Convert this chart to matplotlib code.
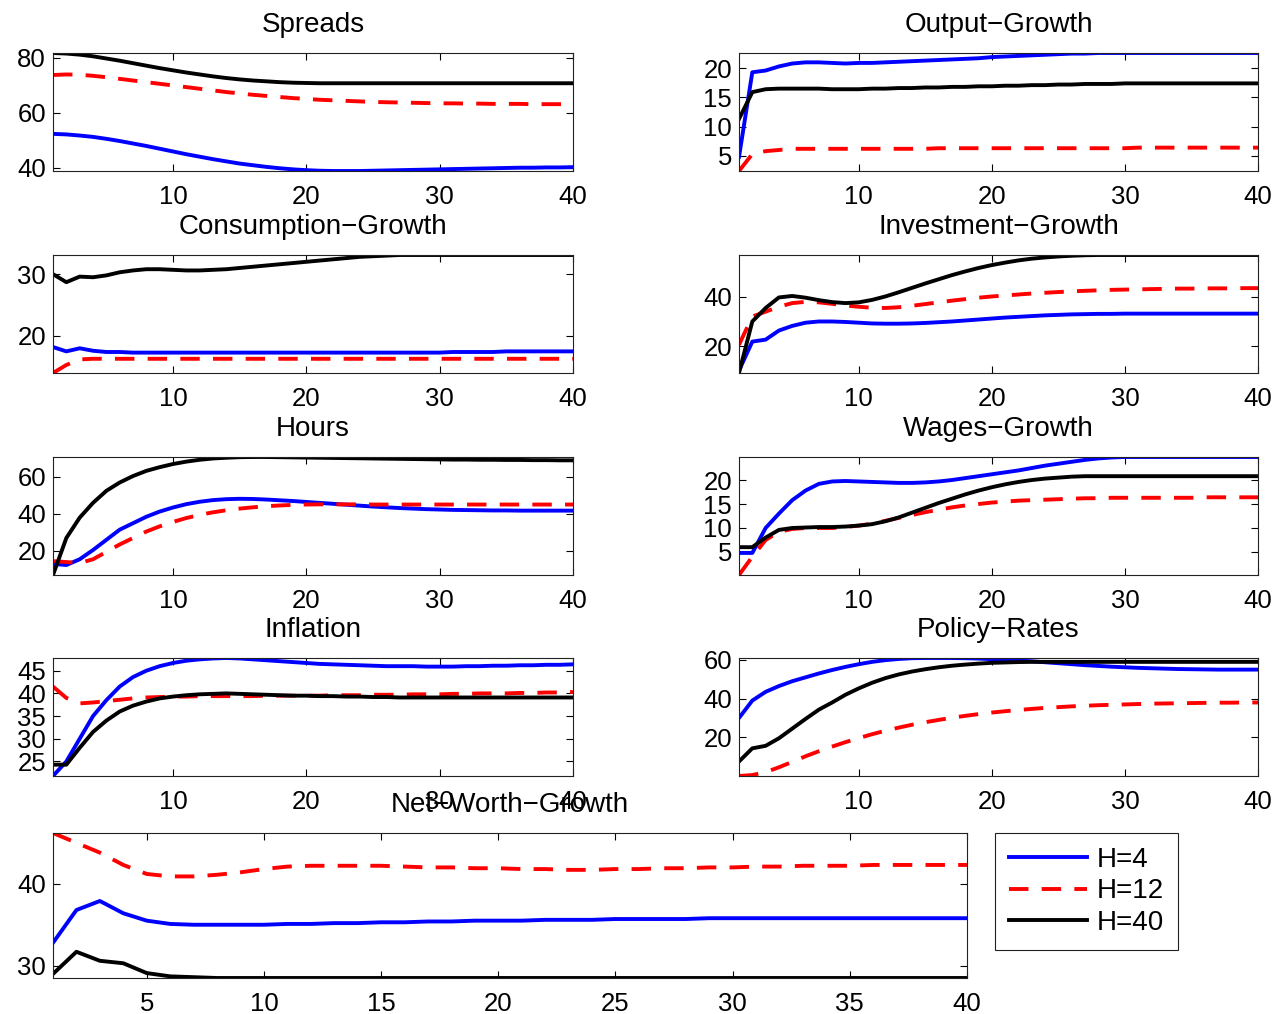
import matplotlib
matplotlib.use('Agg')
import matplotlib.pyplot as plt
import numpy as np

plt.rcParams['font.family'] = ['Liberation Sans', 'DejaVu Sans']

# horizon (quarters)
t = np.arange(1, 41)

labels = ['H=4', 'H=12', 'H=40']

spreads_h4 = [52.4, 52.2, 51.8, 51.3, 50.6, 49.8, 48.9, 48.0, 47.0, 46.0,
              45.0, 44.1, 43.2, 42.4, 41.6, 41.0, 40.4, 39.9, 39.5, 39.2,
              39.0, 38.9, 38.9, 38.9, 39.0, 39.1, 39.2, 39.3, 39.4, 39.5,
              39.6, 39.7, 39.8, 39.9, 40.0, 40.1, 40.1, 40.2, 40.2, 40.3]
spreads_h12 = [73.8, 74.0, 73.9, 73.5, 73.0, 72.4, 71.8, 71.2, 70.6, 70.0,
               69.4, 68.8, 68.2, 67.6, 67.1, 66.6, 66.2, 65.8, 65.4, 65.1,
               64.8, 64.6, 64.4, 64.2, 64.0, 63.9, 63.8, 63.7, 63.6, 63.5,
               63.5, 63.4, 63.4, 63.3, 63.3, 63.3, 63.2, 63.2, 63.2, 63.1]
spreads_h40 = [81.8, 81.6, 81.2, 80.6, 79.8, 79.0, 78.1, 77.2, 76.3, 75.5,
               74.7, 74.0, 73.3, 72.7, 72.2, 71.8, 71.5, 71.2, 71.0, 70.9,
               70.8, 70.8, 70.8, 70.8, 70.8, 70.8, 70.8, 70.8, 70.8, 70.8,
               70.8, 70.8, 70.8, 70.8, 70.8, 70.8, 70.8, 70.8, 70.8, 70.8]

output_h4 = [4.8, 19.3, 19.6, 20.3, 20.8, 21.0, 21.0, 20.9, 20.8, 20.9,
             20.9, 21.0, 21.1, 21.2, 21.3, 21.4, 21.5, 21.6, 21.7, 21.9,
             22.0, 22.1, 22.2, 22.3, 22.4, 22.5, 22.5, 22.6, 22.6, 22.6,
             22.6, 22.6, 22.6, 22.6, 22.6, 22.6, 22.6, 22.6, 22.6, 22.6]
output_h12 = [2.4, 5.3, 5.8, 6.0, 6.2, 6.2, 6.2, 6.2, 6.2, 6.2,
              6.2, 6.2, 6.2, 6.2, 6.2, 6.3, 6.3, 6.3, 6.3, 6.3,
              6.3, 6.3, 6.3, 6.3, 6.3, 6.3, 6.3, 6.3, 6.3, 6.3,
              6.4, 6.4, 6.4, 6.4, 6.4, 6.4, 6.4, 6.4, 6.4, 6.4]
output_h40 = [11.3, 15.9, 16.4, 16.5, 16.5, 16.5, 16.5, 16.4, 16.4, 16.4,
              16.5, 16.5, 16.6, 16.6, 16.7, 16.7, 16.8, 16.8, 16.9, 16.9,
              17.0, 17.0, 17.1, 17.1, 17.2, 17.2, 17.3, 17.3, 17.3, 17.4,
              17.4, 17.4, 17.4, 17.4, 17.4, 17.4, 17.4, 17.4, 17.4, 17.4]

cons_h4 = [18.2, 17.5, 18.0, 17.6, 17.4, 17.4, 17.3, 17.3, 17.3, 17.3,
           17.3, 17.3, 17.3, 17.3, 17.3, 17.3, 17.3, 17.3, 17.3, 17.3,
           17.3, 17.3, 17.3, 17.3, 17.3, 17.3, 17.3, 17.3, 17.3, 17.3,
           17.4, 17.4, 17.4, 17.4, 17.5, 17.5, 17.5, 17.5, 17.5, 17.5]
cons_h12 = [14.0, 15.3, 16.2, 16.3, 16.3, 16.3, 16.3, 16.3, 16.3, 16.3,
            16.3, 16.3, 16.3, 16.3, 16.3, 16.3, 16.3, 16.3, 16.3, 16.3,
            16.3, 16.3, 16.3, 16.3, 16.3, 16.3, 16.3, 16.3, 16.3, 16.3,
            16.3, 16.3, 16.3, 16.3, 16.3, 16.3, 16.3, 16.3, 16.3, 16.3]
cons_h40 = [30.0, 28.7, 29.6, 29.5, 29.8, 30.3, 30.6, 30.8, 30.8, 30.7,
            30.6, 30.6, 30.7, 30.8, 31.0, 31.2, 31.4, 31.6, 31.8, 32.0,
            32.2, 32.4, 32.6, 32.8, 32.9, 33.0, 33.1, 33.1, 33.1, 33.1,
            33.1, 33.1, 33.1, 33.1, 33.1, 33.1, 33.1, 33.1, 33.1, 33.1]

inv_h4 = [10.0, 21.8, 22.6, 26.3, 28.2, 29.5, 30.0, 30.0, 29.8, 29.5,
          29.2, 29.1, 29.1, 29.2, 29.4, 29.7, 30.0, 30.4, 30.8, 31.2,
          31.6, 31.9, 32.2, 32.5, 32.7, 32.9, 33.0, 33.1, 33.1, 33.2,
          33.2, 33.2, 33.2, 33.2, 33.2, 33.2, 33.2, 33.2, 33.2, 33.2]
inv_h12 = [20.5, 32.0, 34.0, 36.0, 37.5, 38.0, 37.8, 37.2, 36.5, 36.0,
           35.6, 35.5, 35.8, 36.4, 37.1, 37.8, 38.5, 39.1, 39.7, 40.2,
           40.6, 41.0, 41.4, 41.7, 42.0, 42.3, 42.5, 42.7, 42.9, 43.0,
           43.1, 43.2, 43.3, 43.4, 43.4, 43.5, 43.5, 43.5, 43.6, 43.6]
inv_h40 = [9.0, 30.0, 35.5, 39.8, 40.4, 39.7, 38.7, 37.9, 37.5, 37.8,
           38.8, 40.2, 41.9, 43.7, 45.5, 47.2, 48.9, 50.4, 51.8, 53.0,
           54.0, 54.9, 55.6, 56.1, 56.5, 56.8, 57.0, 57.1, 57.1, 57.1,
           57.1, 57.1, 57.1, 57.1, 57.1, 57.1, 57.1, 57.1, 57.1, 57.1]

hours_h4 = [13.0, 12.4, 15.5, 20.5, 26.0, 31.5, 35.0, 38.5, 41.3, 43.5,
            45.3, 46.6, 47.5, 48.0, 48.2, 48.1, 47.8, 47.4, 47.0, 46.5,
            46.0, 45.5, 45.0, 44.5, 44.0, 43.6, 43.2, 42.9, 42.6, 42.4,
            42.2, 42.1, 42.0, 41.9, 41.9, 41.8, 41.8, 41.8, 41.8, 41.8]
hours_h12 = [14.5, 14.0, 13.5, 15.5, 19.5, 23.5, 27.0, 30.5, 33.3, 35.7,
             37.8, 39.5, 40.9, 42.0, 42.9, 43.6, 44.2, 44.6, 44.9, 45.1,
             45.2, 45.2, 45.2, 45.2, 45.1, 45.1, 45.1, 45.1, 45.1, 45.1,
             45.1, 45.1, 45.1, 45.1, 45.1, 45.1, 45.1, 45.1, 45.1, 45.1]
hours_h40 = [7.0, 27.0, 38.0, 46.0, 52.5, 57.0, 60.5, 63.3, 65.3, 67.0,
             68.3, 69.3, 70.0, 70.4, 70.7, 70.8, 70.8, 70.7, 70.6, 70.5,
             70.4, 70.3, 70.2, 70.1, 70.0, 69.9, 69.8, 69.7, 69.6, 69.5,
             69.4, 69.4, 69.3, 69.3, 69.2, 69.2, 69.1, 69.1, 69.0, 69.0]

wages_h4 = [4.8, 4.8, 10.0, 13.0, 15.8, 17.8, 19.2, 19.7, 19.8, 19.7,
            19.6, 19.5, 19.4, 19.4, 19.5, 19.7, 20.0, 20.4, 20.8, 21.2,
            21.6, 22.0, 22.5, 23.0, 23.4, 23.8, 24.2, 24.5, 24.7, 24.8,
            24.8, 24.8, 24.8, 24.8, 24.8, 24.8, 24.8, 24.8, 24.8, 24.8]
wages_h12 = [0.2, 4.0, 7.5, 9.2, 9.8, 10.0, 10.0, 10.0, 10.2, 10.5,
             10.9, 11.5, 12.1, 12.7, 13.3, 13.8, 14.3, 14.7, 15.0, 15.3,
             15.5, 15.7, 15.8, 15.9, 16.0, 16.1, 16.2, 16.2, 16.3, 16.3,
             16.3, 16.3, 16.3, 16.3, 16.3, 16.4, 16.4, 16.4, 16.4, 16.4]
wages_h40 = [6.0, 6.0, 8.0, 9.6, 10.0, 10.1, 10.2, 10.2, 10.3, 10.5,
             10.8, 11.4, 12.2, 13.2, 14.2, 15.2, 16.1, 17.0, 17.8, 18.5,
             19.1, 19.6, 20.0, 20.3, 20.5, 20.7, 20.8, 20.8, 20.8, 20.8,
             20.8, 20.8, 20.8, 20.8, 20.8, 20.8, 20.8, 20.8, 20.8, 20.8]

infl_h4 = [21.8, 25.0, 30.0, 35.0, 38.5, 41.5, 43.6, 45.0, 46.0, 46.7,
           47.2, 47.5, 47.7, 47.8, 47.7, 47.5, 47.3, 47.1, 46.9, 46.7,
           46.5, 46.4, 46.3, 46.2, 46.1, 46.0, 46.0, 46.0, 45.9, 45.9,
           45.9, 46.0, 46.0, 46.1, 46.1, 46.2, 46.2, 46.3, 46.3, 46.4]
infl_h12 = [41.5, 39.0, 37.8, 38.0, 38.3, 38.6, 38.9, 39.1, 39.2, 39.3,
            39.3, 39.4, 39.4, 39.4, 39.4, 39.4, 39.5, 39.5, 39.5, 39.5,
            39.5, 39.6, 39.6, 39.6, 39.7, 39.7, 39.7, 39.8, 39.8, 39.8,
            39.9, 39.9, 40.0, 40.0, 40.0, 40.1, 40.1, 40.2, 40.2, 40.3]
infl_h40 = [24.3, 24.3, 28.0, 31.5, 34.0, 36.0, 37.3, 38.2, 38.9, 39.3,
            39.6, 39.8, 39.9, 40.0, 39.9, 39.8, 39.7, 39.6, 39.5, 39.5,
            39.4, 39.4, 39.3, 39.3, 39.2, 39.2, 39.1, 39.1, 39.1, 39.1,
            39.1, 39.1, 39.1, 39.1, 39.1, 39.1, 39.1, 39.1, 39.1, 39.1]

policy_h4 = [30.0, 39.0, 43.5, 46.5, 49.0, 51.0, 53.0, 54.8, 56.4, 57.8,
             59.0, 59.9, 60.5, 60.9, 61.0, 61.0, 61.0, 60.9, 60.7, 60.4,
             60.1, 59.7, 59.3, 58.8, 58.3, 57.8, 57.3, 56.9, 56.5, 56.2,
             55.9, 55.7, 55.5, 55.3, 55.2, 55.1, 55.0, 55.0, 55.0, 55.0]
policy_h12 = [0.0, 0.5, 2.0, 4.5, 7.3, 10.2, 12.8, 15.2, 17.5, 19.6,
              21.6, 23.4, 25.0, 26.5, 27.8, 29.0, 30.1, 31.1, 32.0, 32.8,
              33.5, 34.1, 34.7, 35.2, 35.6, 36.0, 36.3, 36.6, 36.8, 37.0,
              37.2, 37.4, 37.5, 37.6, 37.7, 37.8, 37.9, 37.9, 38.0, 38.0]
policy_h40 = [7.5, 14.3, 15.6, 19.5, 24.5, 29.5, 34.3, 38.0, 42.0, 45.3,
              48.2, 50.6, 52.5, 54.0, 55.2, 56.2, 57.0, 57.6, 58.1, 58.5,
              58.7, 58.9, 59.0, 59.0, 59.0, 59.0, 59.0, 59.0, 59.0, 59.0,
              59.0, 59.0, 59.0, 59.0, 59.0, 59.0, 59.0, 59.0, 59.0, 59.0]

nw_h4 = [32.8, 36.8, 37.9, 36.4, 35.5, 35.1, 35.0, 35.0, 35.0, 35.0,
         35.1, 35.1, 35.2, 35.2, 35.3, 35.3, 35.4, 35.4, 35.5, 35.5,
         35.5, 35.6, 35.6, 35.6, 35.7, 35.7, 35.7, 35.7, 35.8, 35.8,
         35.8, 35.8, 35.8, 35.8, 35.8, 35.8, 35.8, 35.8, 35.8, 35.8]
nw_h12 = [46.2, 45.0, 43.8, 42.3, 41.2, 40.9, 40.9, 41.1, 41.4, 41.8,
          42.1, 42.2, 42.2, 42.2, 42.2, 42.1, 42.0, 42.0, 41.9, 41.9,
          41.8, 41.8, 41.7, 41.7, 41.8, 41.8, 41.9, 41.9, 42.0, 42.0,
          42.1, 42.1, 42.2, 42.2, 42.2, 42.3, 42.3, 42.3, 42.3, 42.3]
nw_h40 = [29.0, 31.7, 30.6, 30.3, 29.1, 28.7, 28.6, 28.5, 28.5, 28.5,
          28.5, 28.5, 28.5, 28.5, 28.5, 28.5, 28.5, 28.5, 28.5, 28.5,
          28.5, 28.5, 28.5, 28.5, 28.5, 28.5, 28.5, 28.5, 28.5, 28.5,
          28.5, 28.5, 28.5, 28.5, 28.5, 28.5, 28.5, 28.5, 28.5, 28.5]

W, H = 1278, 1014
fig = plt.figure(figsize=(W / 100, H / 100), dpi=100)

def px_axes(x0, y0, x1, y1):
    # axes from pixel box (top-left origin)
    return fig.add_axes([x0 / W, 1 - y1 / H, (x1 - x0) / W, (y1 - y0) / H])

styles = [dict(color='b', ls='-'),
          dict(color='r', ls=(0, (5.0, 3.4))),
          dict(color='k', ls='-')]
FS_TICK = 18.5
FS_TITLE = 20

def panel(ax, title, series, yticks, xticks=(10, 20, 30, 40)):
    lines = []
    for s, st in zip(series, styles):
        ln, = ax.plot(t, s, lw=2.8, **st)
        lines.append(ln)
    ax.set_xlim(1, 40)
    lo = min(min(s) for s in series)
    hi = max(max(s) for s in series)
    ax.set_ylim(lo, hi)
    ax.set_xticks(xticks)
    ax.set_yticks(yticks)
    ax.tick_params(direction='in', top=True, right=True, length=5, width=0.8,
                   labelsize=FS_TICK)
    ax.tick_params(axis='x', pad=10)
    ax.tick_params(axis='y', pad=5)
    for sp in ax.spines.values():
        sp.set_linewidth(0.8)
        sp.set_color('#222222')
    ax.set_title(title, fontsize=FS_TITLE, pad=15)
    return lines

rows = [53, 255, 457, 658]
LX = (53, 573)
RX = (739, 1258)

panel(px_axes(LX[0], rows[0], LX[1], rows[0] + 118), 'Spreads',
      [spreads_h4, spreads_h12, spreads_h40], [40, 60, 80])
panel(px_axes(RX[0], rows[0], RX[1], rows[0] + 118), 'Output\u2212Growth',
      [output_h4, output_h12, output_h40], [5, 10, 15, 20])
panel(px_axes(LX[0], rows[1], LX[1], rows[1] + 118), 'Consumption\u2212Growth',
      [cons_h4, cons_h12, cons_h40], [20, 30])
panel(px_axes(RX[0], rows[1], RX[1], rows[1] + 118), 'Investment\u2212Growth',
      [inv_h4, inv_h12, inv_h40], [20, 40])
panel(px_axes(LX[0], rows[2], LX[1], rows[2] + 118), 'Hours',
      [hours_h4, hours_h12, hours_h40], [20, 40, 60])
panel(px_axes(RX[0], rows[2], RX[1], rows[2] + 118), 'Wages\u2212Growth',
      [wages_h4, wages_h12, wages_h40], [5, 10, 15, 20])
panel(px_axes(LX[0], rows[3], LX[1], rows[3] + 118), 'Inflation',
      [infl_h4, infl_h12, infl_h40], [25, 30, 35, 40, 45])
panel(px_axes(RX[0], rows[3], RX[1], rows[3] + 118), 'Policy\u2212Rates',
      [policy_h4, policy_h12, policy_h40], [20, 40, 60])
handles = panel(px_axes(53, 833, 967, 978), 'Net\u2212Worth\u2212Growth',
                [nw_h4, nw_h12, nw_h40], [30, 40],
                xticks=[5, 10, 15, 20, 25, 30, 35, 40])

leg = fig.legend(handles, labels, loc='upper left',
                 bbox_to_anchor=(995 / W, 1 - 833 / H),
                 bbox_transform=fig.transFigure, borderaxespad=0,
                 fontsize=FS_TITLE, handlelength=2.8, handletextpad=0.35,
                 labelspacing=0.2, borderpad=0.5, fancybox=False,
                 framealpha=1)
leg.get_frame().set_edgecolor('#222222')
leg.get_frame().set_linewidth(0.8)

fig.savefig('out.png', dpi=100)
